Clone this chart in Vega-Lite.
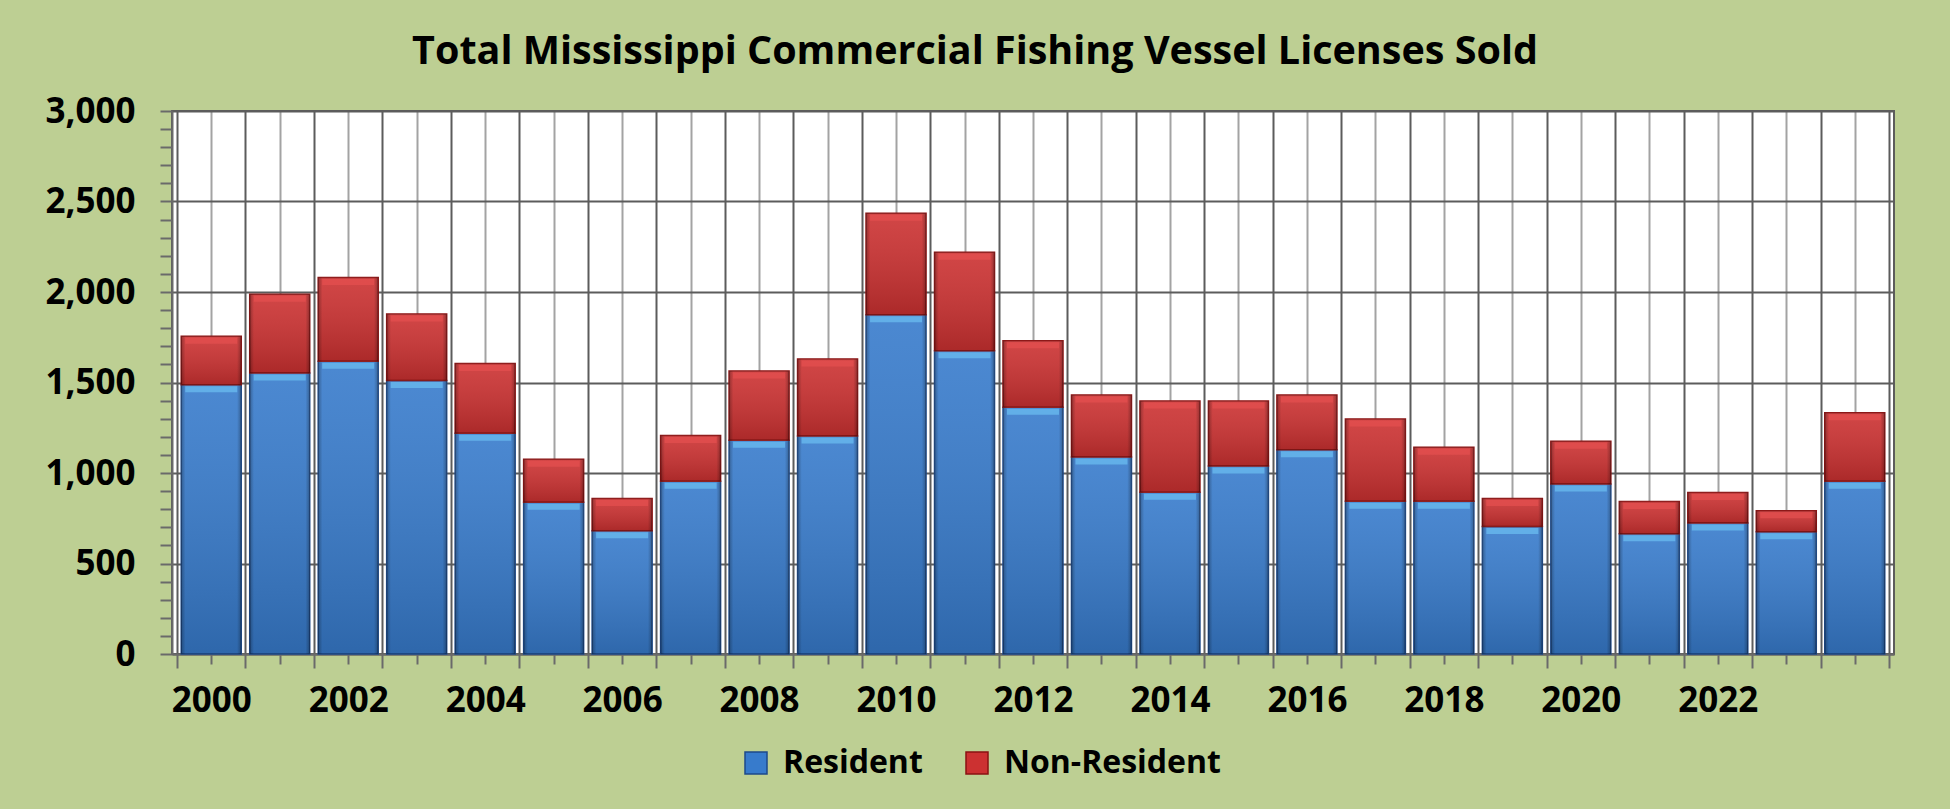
{
  "$schema": "https://vega.github.io/schema/vega-lite/v6.json",
  "width": 1722,
  "height": 543,
  "autosize": {"type": "none"},
  "padding": {"left": 172, "top": 111, "right": 56, "bottom": 155},
  "background": "#bdcf93",
  "title": {
    "text": "Total Mississippi Commercial Fishing Vessel Licenses Sold",
    "font": "Open Sans",
    "fontSize": 39.5,
    "fontWeight": "bold",
    "color": "#000000",
    "anchor": "middle",
    "dx": -58,
    "offset": 22
  },
  "data": {
    "values": [
      {"year": 2000, "type": "Resident", "value": 1487}, {"year": 2000, "type": "Non-Resident", "value": 268},
      {"year": 2001, "type": "Resident", "value": 1552}, {"year": 2001, "type": "Non-Resident", "value": 435},
      {"year": 2002, "type": "Resident", "value": 1617}, {"year": 2002, "type": "Non-Resident", "value": 463},
      {"year": 2003, "type": "Resident", "value": 1511}, {"year": 2003, "type": "Non-Resident", "value": 367},
      {"year": 2004, "type": "Resident", "value": 1220}, {"year": 2004, "type": "Non-Resident", "value": 385},
      {"year": 2005, "type": "Resident", "value": 839}, {"year": 2005, "type": "Non-Resident", "value": 237},
      {"year": 2006, "type": "Resident", "value": 681}, {"year": 2006, "type": "Non-Resident", "value": 178},
      {"year": 2007, "type": "Resident", "value": 955}, {"year": 2007, "type": "Non-Resident", "value": 252},
      {"year": 2008, "type": "Resident", "value": 1181}, {"year": 2008, "type": "Non-Resident", "value": 382},
      {"year": 2009, "type": "Resident", "value": 1204}, {"year": 2009, "type": "Non-Resident", "value": 426},
      {"year": 2010, "type": "Resident", "value": 1874}, {"year": 2010, "type": "Non-Resident", "value": 561},
      {"year": 2011, "type": "Resident", "value": 1676}, {"year": 2011, "type": "Non-Resident", "value": 544},
      {"year": 2012, "type": "Resident", "value": 1363}, {"year": 2012, "type": "Non-Resident", "value": 367},
      {"year": 2013, "type": "Resident", "value": 1089}, {"year": 2013, "type": "Non-Resident", "value": 342},
      {"year": 2014, "type": "Resident", "value": 894}, {"year": 2014, "type": "Non-Resident", "value": 504},
      {"year": 2015, "type": "Resident", "value": 1039}, {"year": 2015, "type": "Non-Resident", "value": 359},
      {"year": 2016, "type": "Resident", "value": 1128}, {"year": 2016, "type": "Non-Resident", "value": 303},
      {"year": 2017, "type": "Resident", "value": 844}, {"year": 2017, "type": "Non-Resident", "value": 454},
      {"year": 2018, "type": "Resident", "value": 844}, {"year": 2018, "type": "Non-Resident", "value": 298},
      {"year": 2019, "type": "Resident", "value": 705}, {"year": 2019, "type": "Non-Resident", "value": 154},
      {"year": 2020, "type": "Resident", "value": 939}, {"year": 2020, "type": "Non-Resident", "value": 237},
      {"year": 2021, "type": "Resident", "value": 665}, {"year": 2021, "type": "Non-Resident", "value": 177},
      {"year": 2022, "type": "Resident", "value": 724}, {"year": 2022, "type": "Non-Resident", "value": 168},
      {"year": 2023, "type": "Resident", "value": 676}, {"year": 2023, "type": "Non-Resident", "value": 116},
      {"year": 2024, "type": "Resident", "value": 955}, {"year": 2024, "type": "Non-Resident", "value": 378}
    ]
  },
  "transform": [
    {
      "stack": "value",
      "groupby": ["year"],
      "sort": [{"field": "type", "order": "descending"}],
      "as": ["v0", "v1"]
    }
  ],
  "encoding": {
    "x": {
      "field": "year",
      "type": "quantitative",
      "title": null,
      "scale": {"domain": [1999.5, 2024.5], "nice": false, "zero": false},
      "axis": {
        "values": [1999.5, 2000, 2000.5, 2001, 2001.5, 2002, 2002.5, 2003, 2003.5, 2004, 2004.5, 2005, 2005.5, 2006, 2006.5, 2007, 2007.5, 2008, 2008.5, 2009, 2009.5, 2010, 2010.5, 2011, 2011.5, 2012, 2012.5, 2013, 2013.5, 2014, 2014.5, 2015, 2015.5, 2016, 2016.5, 2017, 2017.5, 2018, 2018.5, 2019, 2019.5, 2020, 2020.5, 2021, 2021.5, 2022, 2022.5, 2023, 2023.5, 2024, 2024.5],
        "labelExpr": "datum.value % 2 === 0 && datum.value <= 2022 ? '' + datum.value : ''",
        "labelFlush": false,
        "labelOverlap": false,
        "grid": true,
        "gridColor": {"condition": {"test": "datum.value % 1 !== 0", "value": "#5c5c5c"}, "value": "#a3a3a3"},
        "gridWidth": 2,
        "tickSize": {"condition": {"test": "datum.value % 1 !== 0", "value": 14}, "value": 10},
        "tickColor": "#6a6a6a",
        "tickWidth": 2,
        "domainColor": "#6a6a6a",
        "domainWidth": 2,
        "labelPadding": 19
      }
    },
    "y": {
      "field": "v1",
      "type": "quantitative",
      "title": null,
      "scale": {"domain": [0, 3000], "nice": false},
      "axis": {
        "values": [0, 100, 200, 300, 400, 500, 600, 700, 800, 900, 1000, 1100, 1200, 1300, 1400, 1500, 1600, 1700, 1800, 1900, 2000, 2100, 2200, 2300, 2400, 2500, 2600, 2700, 2800, 2900, 3000],
        "labelExpr": "datum.value % 500 === 0 ? format(datum.value, ',') : ''",
        "labelOverlap": false,
        "labelFlush": false,
        "grid": true,
        "gridColor": "#5c5c5c",
        "gridWidth": 2,
        "gridOpacity": {"condition": {"test": "datum.value % 500 === 0", "value": 1}, "value": 0},
        "tickSize": 12,
        "tickColor": "#6a6a6a",
        "tickWidth": 2,
        "domainColor": "#6a6a6a",
        "domainWidth": 2,
        "labelPadding": 25
      }
    }
  },
  "layer": [
    {
      "mark": {"type": "bar", "width": 60, "strokeWidth": 1.5},
      "encoding": {
        "y2": {"field": "v0"},
        "color": {
          "field": "type",
          "type": "nominal",
          "sort": ["Resident", "Non-Resident"],
          "scale": {"domain": ["Resident", "Non-Resident"], "range": ["#377bcc", "#cc3131"]},
          "legend": {
            "title": null,
            "orient": "none",
            "legendX": 568,
            "legendY": 636,
            "direction": "horizontal",
            "symbolType": "square",
            "symbolSize": 484,
            "symbolStrokeWidth": 1.5,
            "symbolStrokeColor": "#1d3f73",
            "labelFont": "Open Sans",
            "labelFontSize": 32,
            "labelFontWeight": "bold",
            "labelColor": "#000000",
            "labelLimit": 400,
            "labelOffset": 11,
            "columnPadding": 38
          }
        },
        "stroke": {
          "field": "type",
          "type": "nominal",
          "scale": {"domain": ["Resident", "Non-Resident"], "range": ["#1d4a8a", "#8a1212"]},
          "legend": null
        }
      }
    },
    {
      "mark": {
        "type": "bar",
        "width": 60,
        "fill": {
          "gradient": "linear",
          "x1": 0, "y1": 0, "x2": 0, "y2": 1,
          "stops": [
            {"offset": 0, "color": "rgba(255,255,255,0.10)"},
            {"offset": 1, "color": "rgba(0,0,0,0.16)"}
          ]
        }
      },
      "encoding": {"y2": {"field": "v0"}}
    },
    {
      "mark": {
        "type": "bar",
        "width": 60,
        "fill": {
          "gradient": "linear",
          "x1": 0, "y1": 0, "x2": 1, "y2": 0,
          "stops": [
            {"offset": 0, "color": "rgba(0,0,0,0.28)"},
            {"offset": 0.07, "color": "rgba(0,0,0,0)"},
            {"offset": 0.93, "color": "rgba(0,0,0,0)"},
            {"offset": 1, "color": "rgba(0,0,0,0.28)"}
          ]
        }
      },
      "encoding": {"y2": {"field": "v0"}}
    },
    {
      "mark": {"type": "tick", "orient": "horizontal", "thickness": 6, "size": 52, "yOffset": 4.5},
      "encoding": {
        "color": {
          "condition": {"test": "datum.type === 'Resident'", "value": "#6cc0f2"},
          "value": "#e65050"
        }
      }
    }
  ],
  "config": {
    "view": {"fill": "#ffffff", "stroke": "#5c5c5c", "strokeWidth": 2},
    "axis": {
      "labelFont": "Open Sans",
      "labelFontSize": 35,
      "labelFontWeight": "bold",
      "labelColor": "#000000"
    }
  }
}
